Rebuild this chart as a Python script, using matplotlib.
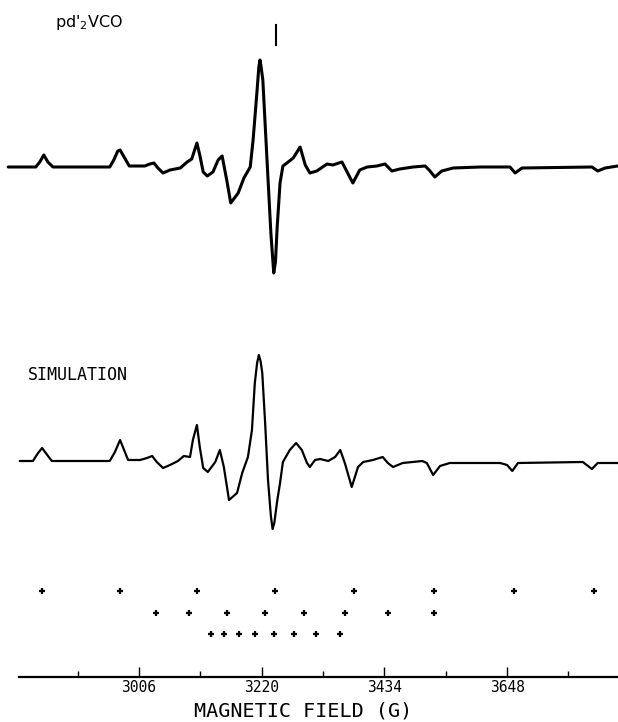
import numpy as np
import matplotlib
matplotlib.use("Agg")
import matplotlib.pyplot as plt
from matplotlib.ticker import FixedLocator

# field axis (G) and tick labels
major_ticks = [3006, 3220, 3434, 3648]
minor_ticks = [2899, 3113, 3327, 3541, 3755]
axis_start, axis_end = 2797, 3841

# experimental spectrum: field (G) and derivative amplitude (arb.)
exp_field = [2778, 2826, 2833, 2840, 2847, 2856, 2955, 2962, 2969, 2973, 2980, 2989,
             3016, 3025, 3032, 3039, 3048, 3060, 3078, 3090, 3098, 3107, 3112, 3118,
             3125, 3135, 3144, 3151, 3159, 3166, 3179, 3189, 3200, 3205, 3212, 3215, 3217,
             3219, 3222, 3229, 3236, 3241, 3244, 3247, 3252, 3257, 3264, 3275, 3287, 3296, 3304,
             3316, 3334, 3344, 3360, 3369, 3379, 3391, 3404, 3421, 3435, 3447, 3461,
             3484, 3505, 3512, 3522, 3534, 3554, 3601, 3653, 3662, 3674, 3796, 3806,
             3819, 3841]
exp_amp = [0, 0, 5, 12, 5, 0, 0, 7, 16, 17, 10, 1,
           1, 3, 4, -1, -6, -3, -1, 5, 8, 24, 12, -5,
           -9, -5, 7, 11, -13, -36, -26, -11, 0, 27, 77, 100, 107,
           100, 87, 10, -66, -106, -95, -60, -16, 1, 4, 9, 20, 2, -6,
           -4, 3, 2, 5, -5, -16, -3, 0, 1, 3, -4, -2,
           0, 1, -3, -10, -4, -1, 0, 0, -6, -1, 0, -4,
           -1, 1]

# simulated spectrum
sim_field = [2798, 2821, 2830, 2837, 2846, 2854, 2955, 2964, 2973, 2980, 2987, 3008,
             3020, 3029, 3037, 3048, 3060, 3074, 3084, 3095, 3100, 3107, 3112, 3118,
             3126, 3139, 3147, 3154, 3163, 3177, 3186, 3196, 3203, 3208, 3212, 3215, 3218, 3221,
             3226, 3231, 3236, 3239, 3242, 3247, 3252, 3257, 3269, 3280, 3290, 3299, 3304,
             3313, 3322, 3336, 3348, 3357, 3365, 3377, 3388, 3397, 3414, 3431, 3440,
             3449, 3466, 3500, 3508, 3519, 3531, 3548, 3636, 3648, 3657, 3667, 3780,
             3796, 3806, 3841]
sim_amp = [0, 0, 8, 13, 6, 0, 0, 9, 21, 11, 1, 1,
           3, 5, -1, -7, -4, 0, 5, 4, 21, 36, 14, -7,
           -11, -1, 11, -6, -39, -32, -12, 4, 31, 78, 98, 106, 100, 88,
           38, -19, -55, -68, -62, -40, -22, -1, 11, 18, 11, -2, -6,
           1, 2, 0, 4, 11, -2, -26, -6, -1, 1, 4, -2,
           -6, -2, 0, -2, -14, -5, -2, -2, -4, -10, -2, -1,
           -8, -2, -2]

# hyperfine stick positions (G), three rows
stick_row1 = [2836, 2973, 3108, 3243, 3381, 3520, 3660, 3799]
stick_row2 = [3036, 3094, 3159, 3225, 3294, 3366, 3441, 3520]
stick_row3 = [3132, 3155, 3180, 3208, 3241, 3276, 3315, 3357]

g_marker = 3245

plt.rcParams['mathtext.fontset'] = 'dejavusans'
fig = plt.figure(figsize=(6.18, 7.22), dpi=100)
ax = fig.add_axes([0, 45 / 722, 1, 677 / 722])
ax.set_xlim(2763.6, 3841.4)
ax.set_ylim(677, 0)

exp_base, sim_base = 167, 461
ax.plot(exp_field, exp_base - np.array(exp_amp), color='black', lw=2.2,
        solid_joinstyle='round', solid_capstyle='round')
ax.plot(sim_field, sim_base - np.array(sim_amp), color='black', lw=1.6,
        solid_joinstyle='round', solid_capstyle='round')

for row, ypos in zip([stick_row1, stick_row2, stick_row3], [591, 613, 634]):
    ax.plot(row, [ypos] * len(row), ls='none', marker='+', ms=4, mew=1.6, color='black')

ax.plot([g_marker, g_marker], [25, 45], color='black', lw=1.5)

ax.text(2859, 27, r"pd'$_2$VCO", fontsize=11.5, family='DejaVu Sans', va='baseline')
ax.text(2812, 375, "SIMULATION", fontsize=12, family='DejaVu Sans Mono', va='center')

for s in ['top', 'left', 'right']:
    ax.spines[s].set_visible(False)
ax.spines['bottom'].set_bounds(axis_start, axis_end)
ax.spines['bottom'].set_linewidth(1.6)
ax.set_yticks([])
ax.xaxis.set_major_locator(FixedLocator(major_ticks))
ax.xaxis.set_minor_locator(FixedLocator(minor_ticks))
ax.tick_params(axis='x', which='major', direction='in', length=7, width=1, pad=2,
               labelsize=10.5)
ax.tick_params(axis='x', which='minor', direction='in', length=4, width=1)
for lab in ax.get_xticklabels():
    lab.set_family('DejaVu Sans Mono')

fig.text(303 / 618, 1 - 711 / 722, "MAGNETIC FIELD (G)", fontsize=14.5,
         family='DejaVu Sans Mono', ha='center', va='center')

fig.savefig('out.png', dpi=100)
